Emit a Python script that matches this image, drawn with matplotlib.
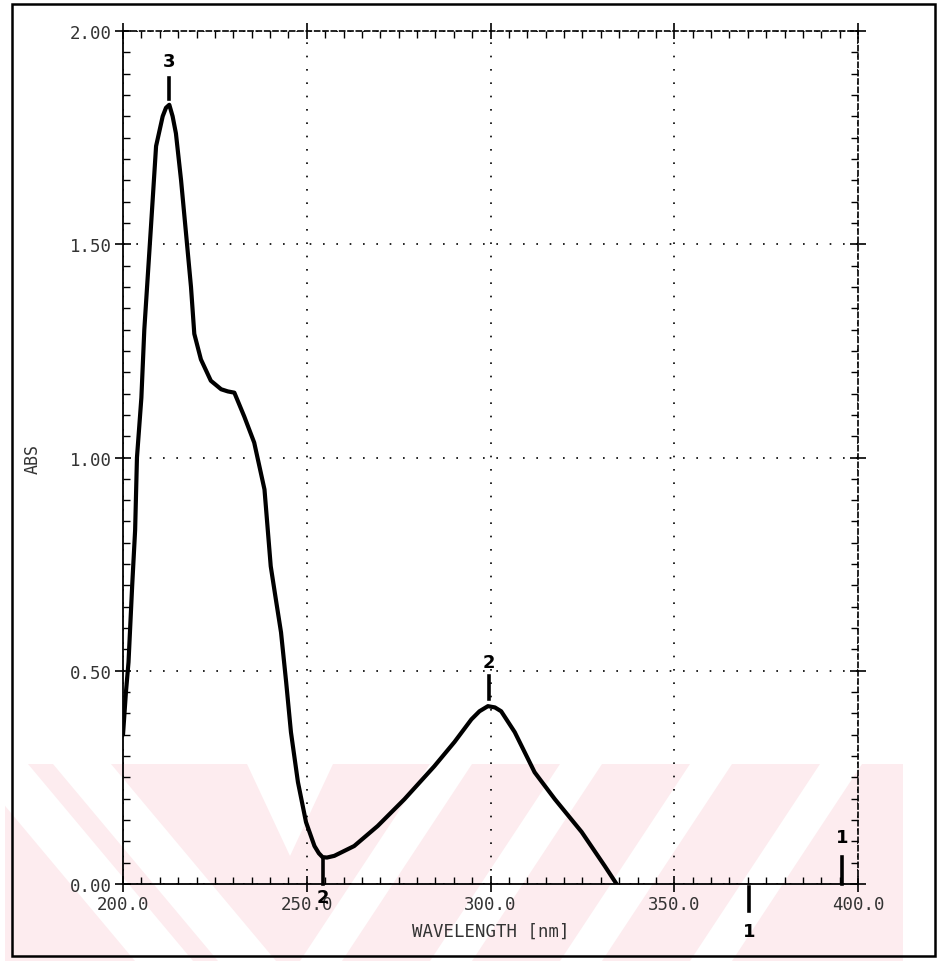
import matplotlib
matplotlib.use("Agg")
import matplotlib.pyplot as plt
from matplotlib.ticker import MultipleLocator
from matplotlib.patches import Polygon, Rectangle

# UV spectrum
wavelength = [200.0, 200.8, 201.5, 202.5, 203.3, 203.8, 205.0, 205.8, 206.7, 207.6,
              209.0, 210.8, 211.7, 212.6, 213.5, 214.4, 215.8, 217.1, 218.5, 219.4,
              221.2, 223.9, 226.7, 228.5, 230.3, 233.0, 235.7, 238.5, 240.2, 241.6,
              243.0, 244.4, 245.7, 247.6, 249.8, 252.1, 253.3, 254.3, 255.5, 257.5,
              262.9, 269.3, 276.6, 284.7, 290.2, 294.8, 297.0, 299.3, 301.2, 302.9,
              306.6, 312.0, 317.5, 324.8, 331.1, 334.3]
absorbance = [0.35, 0.45, 0.52, 0.70, 0.83, 1.00, 1.14, 1.30, 1.42, 1.54,
              1.73, 1.80, 1.82, 1.827, 1.80, 1.76, 1.65, 1.53, 1.40, 1.29,
              1.23, 1.18, 1.16, 1.155, 1.152, 1.096, 1.035, 0.925, 0.745, 0.667,
              0.59, 0.473, 0.356, 0.239, 0.145, 0.089, 0.072, 0.063, 0.062, 0.066,
              0.089, 0.136, 0.199, 0.276, 0.333, 0.386, 0.405, 0.417, 0.414, 0.405,
              0.356, 0.262, 0.199, 0.122, 0.042, 0.0]

x_ticks = [200, 250, 300, 350, 400]
x_labels = ['200.0', '250.0', '300.0', '350.0', '400.0']
y_ticks = [0.0, 0.5, 1.0, 1.5, 2.0]
y_labels = ['0.00', '0.50', '1.00', '1.50', '2.00']

# hand written peak marks: wavelength, tick from, tick to, label y, label
mark_wl = [212.6, 254.5, 299.5, 370.3, 395.6]
mark_y0 = [1.84, 0.0, 0.433, -0.007, 0.0]
mark_y1 = [1.89, 0.062, 0.487, -0.063, 0.063]
mark_ty = [1.93, -0.03, 0.52, -0.11, 0.11]
mark_txt = ['3', '2', '2', '1', '1']

W, H = 940, 962
fig = plt.figure(figsize=(W / 100, H / 100), dpi=100)


def px(x, y):
    # page pixel (from top-left) -> figure fraction
    return (x / W, 1 - y / H)


# faint pink watermark band at the bottom of the scan
top, bot = 765, 962
fig.patches.append(Polygon([px(5, top), px(903, top), px(903, bot), px(5, bot)],
                           transform=fig.transFigure, facecolor='#fdecef',
                           edgecolor='none', zorder=-6))
white_bits = []
for x0 in [-30, 53]:          # "\" gaps
    white_bits.append([px(x0, top), px(x0 + 58, top), px(x0 + 58 + 165, bot), px(x0 + 165, bot)])
white_bits.append([px(247, top), px(333, top), px(290, 857)])   # V gap
for x0 in [430, 560, 690, 820]:   # "/" gaps
    white_bits.append([px(x0, top), px(x0 + 42, top), px(x0 + 42 - 130, bot), px(x0 - 130, bot)])
for pts in white_bits:
    fig.patches.append(Polygon(pts, closed=True, transform=fig.transFigure,
                               facecolor='white', edgecolor='none', zorder=-5))

# outer frame of the scanned page
fig.patches.append(Rectangle(px(12, 957), (935 - 12) / W, (957 - 5) / H,
                             transform=fig.transFigure, fill=False,
                             edgecolor='black', linewidth=1.8, zorder=-4))

ax = fig.add_axes([123 / W, 1 - 885 / H, (858 - 123) / W, (885 - 32) / H])
ax.set_facecolor('none')

ax.plot(wavelength, absorbance, color='black', linewidth=3, solid_capstyle='round',
        solid_joinstyle='round', zorder=3)

for wl, y0, y1, ty, t in zip(mark_wl, mark_y0, mark_y1, mark_ty, mark_txt):
    ax.plot([wl, wl], [y0, y1], color='black', linewidth=2.6, clip_on=False, zorder=4)
    ax.text(wl, ty, t, ha='center', va='center', fontsize=13, fontweight='bold',
            family='DejaVu Sans', clip_on=False, zorder=5)

ax.set_xlim(200, 400)
ax.set_ylim(0, 2)
ax.set_xticks(x_ticks)
ax.set_xticklabels(x_labels)
ax.set_yticks(y_ticks)
ax.set_yticklabels(y_labels)
ax.xaxis.set_minor_locator(MultipleLocator(5))
ax.yaxis.set_minor_locator(MultipleLocator(0.05))

mono = {'family': 'DejaVu Sans Mono', 'size': 12.5, 'color': '#333333'}
for lab in ax.get_xticklabels() + ax.get_yticklabels():
    lab.set_fontfamily(mono['family'])
    lab.set_fontsize(mono['size'])
    lab.set_color(mono['color'])

ax.tick_params(which='major', direction='inout', length=12, width=1.2, pad=2,
               top=True, right=True)
ax.tick_params(which='minor', direction='in', length=5, width=1.0,
               top=True, right=True)

ax.grid(True, which='major', linestyle=(0, (1, 7)), color='black', linewidth=1.2)

for s in ['left', 'bottom']:
    ax.spines[s].set_linewidth(1.3)
for s in ['top', 'right']:
    ax.spines[s].set_linewidth(1.2)
    ax.spines[s].set_linestyle((0, (3, 2)))

ax.set_xlabel('WAVELENGTH [nm]', fontdict=mono, labelpad=6)
ax.set_ylabel('ABS', fontdict={'family': 'DejaVu Sans Mono', 'size': 12, 'color': '#333333'})
ax.yaxis.set_label_coords((42 - 123) / (858 - 123), 0.5)

fig.savefig('out.png', dpi=100)
